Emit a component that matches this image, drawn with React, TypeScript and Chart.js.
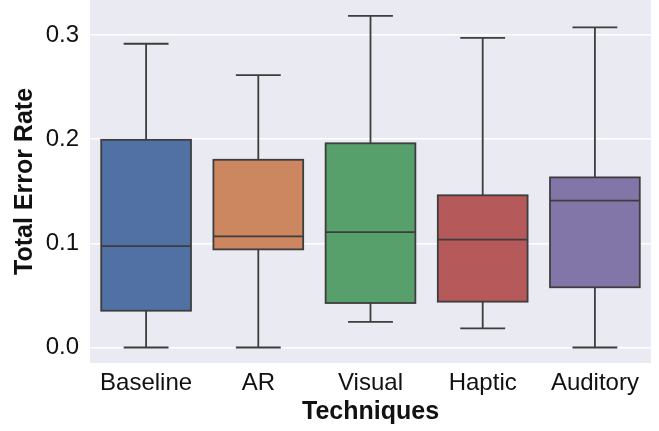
import React, { useEffect, useRef } from "react";
import { Chart, registerables } from "chart.js";

Chart.register(...registerables);

const categories = ["Baseline", "AR", "Visual", "Haptic", "Auditory"];
const whiskerLow = [0.0, 0.0, 0.0245, 0.0184, 0.0];
const q1Values = [0.0353, 0.0942, 0.0427, 0.044, 0.0578];
const medianValues = [0.0974, 0.1067, 0.1108, 0.1035, 0.1409];
const q3Values = [0.1994, 0.1802, 0.196, 0.1461, 0.1633];
const whiskerHigh = [0.2916, 0.2615, 0.3184, 0.2973, 0.3073];
const yTickValues = [0.0, 0.1, 0.2, 0.3];
const boxColors = ["#5170a3", "#cc8760", "#58a06b", "#b5595b", "#8276a9"];

const LINE_COLOR = "#3d3d3d";
const FONT = "'Liberation Sans', Arial, sans-serif";

const boxPlugin = {
  id: "boxPlugin",
  beforeDraw(chart: any) {
    const { ctx, chartArea } = chart;
    ctx.save();
    ctx.fillStyle = "#eaeaf2";
    ctx.fillRect(chartArea.left, chartArea.top, chartArea.right - chartArea.left, chartArea.bottom - chartArea.top);
    ctx.restore();
  },
  afterDatasetsDraw(chart: any) {
    const { ctx } = chart;
    const xs = chart.scales.x;
    const ys = chart.scales.y;
    const meta = chart.getDatasetMeta(0);
    ctx.save();
    ctx.strokeStyle = LINE_COLOR;
    ctx.lineWidth = 1.8;
    ctx.lineCap = "butt";
    categories.forEach((_, i) => {
      const bar = meta.data[i];
      const cx = xs.getPixelForValue(i);
      const w = bar.width;
      const yLo = ys.getPixelForValue(whiskerLow[i]);
      const yQ1 = ys.getPixelForValue(q1Values[i]);
      const yMed = ys.getPixelForValue(medianValues[i]);
      const yQ3 = ys.getPixelForValue(q3Values[i]);
      const yHi = ys.getPixelForValue(whiskerHigh[i]);
      ctx.beginPath();
      ctx.moveTo(cx, yQ3);
      ctx.lineTo(cx, yHi);
      ctx.moveTo(cx, yQ1);
      ctx.lineTo(cx, yLo);
      ctx.moveTo(cx - w / 4, yHi);
      ctx.lineTo(cx + w / 4, yHi);
      ctx.moveTo(cx - w / 4, yLo);
      ctx.lineTo(cx + w / 4, yLo);
      ctx.moveTo(cx - w / 2, yMed);
      ctx.lineTo(cx + w / 2, yMed);
      ctx.stroke();
      ctx.strokeRect(cx - w / 2, yQ3, w, yQ1 - yQ3);
    });
    ctx.restore();
  },
};

export default function App() {
  const canvasRef = useRef<HTMLCanvasElement | null>(null);

  useEffect(() => {
    if (!canvasRef.current) return;
    const chart = new Chart(canvasRef.current, {
      type: "bar",
      data: {
        labels: categories,
        datasets: [
          {
            data: categories.map((_, i) => [q1Values[i], q3Values[i]]) as any,
            backgroundColor: boxColors,
            borderWidth: 0,
            barPercentage: 0.8,
            categoryPercentage: 1.0,
          },
        ],
      },
      options: {
        animation: false,
        responsive: false,
        devicePixelRatio: 1,
        layout: { padding: { left: 0, right: 8, top: 0, bottom: 0 } },
        plugins: {
          legend: { display: false },
          tooltip: { enabled: false },
        },
        scales: {
          x: {
            grid: { display: false, drawTicks: false },
            border: { display: false },
            ticks: {
              padding: 6,
              color: "#111",
              font: { family: FONT, size: 24 },
            },
            title: {
              display: true,
              text: "Techniques",
              color: "#111",
              font: { family: FONT, size: 25, weight: "bold" },
              padding: { top: 0, bottom: 4 },
            },
            afterFit: (scale: any) => {
              scale.height = 68;
              scale.paddingLeft = 0;
              scale.paddingRight = 0;
            },
          },
          y: {
            min: -0.0149,
            max: 0.3336,
            grid: { color: "#ffffff", lineWidth: 1.5, drawTicks: false },
            border: { display: false },
            afterBuildTicks: (scale: any) => {
              scale.ticks = yTickValues.map((v) => ({ value: v }));
            },
            ticks: {
              padding: 11,
              color: "#111",
              font: { family: FONT, size: 24 },
              callback: (v: any) => Number(v).toFixed(1),
            },
            title: {
              display: true,
              text: "Total Error Rate",
              color: "#111",
              font: { family: FONT, size: 25, weight: "bold" },
              padding: { top: 10, bottom: 0 },
            },
            afterFit: (scale: any) => {
              scale.width = 90;
              scale.paddingTop = 0;
              scale.paddingBottom = 0;
            },
          },
        },
      },
      plugins: [boxPlugin],
    });
    return () => chart.destroy();
  }, []);

  return (
    <canvas
      ref={canvasRef}
      width={659}
      height={431}
      style={{ position: "absolute", left: 0, top: 0, width: 659, height: 431 }}
    />
  );
}
